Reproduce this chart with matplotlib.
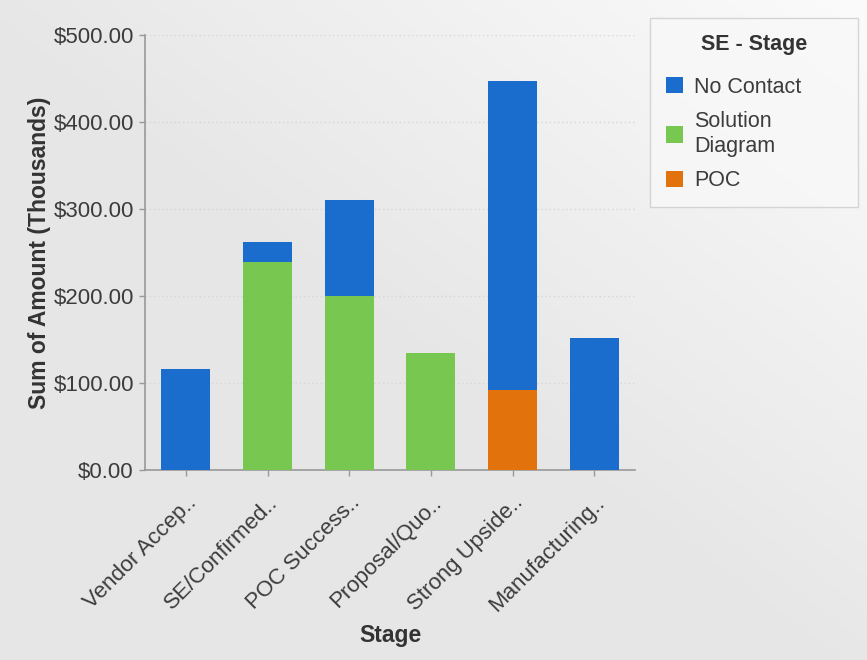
import numpy as np
import matplotlib
matplotlib.use("Agg")
import matplotlib.pyplot as plt
from matplotlib.patches import Patch

plt.rcParams['font.family'] = ['Liberation Sans', 'DejaVu Sans']

categories = ["Vendor Accep..", "SE/Confirmed..", "POC Success..",
              "Proposal/Quo..", "Strong Upside..", "Manufacturing.."]
poc = [0, 0, 0, 0, 92, 0]
solution_diagram = [0, 239, 200, 134, 0, 0]
no_contact = [116, 23, 110, 0, 355, 152]
series_names = ["No Contact", "Solution\nDiagram", "POC"]
yticks = [0, 100, 200, 300, 400, 500]

c_blue = "#1a6ccd"
c_green = "#78c751"
c_orange = "#e2720c"
txt = "#3c3c3c"

fig = plt.figure(figsize=(8.67, 6.6), dpi=100)

# background gradient
bg = fig.add_axes([0, 0, 1, 1], zorder=-10)
xx, yy = np.meshgrid(np.linspace(0, 1, 200), np.linspace(0, 1, 200))
grad = 0.6 * xx + 0.6 * (1 - yy)
grad = np.clip(grad - 0.55, 0, 1) / 0.65
bg.imshow(grad, cmap=matplotlib.colors.LinearSegmentedColormap.from_list(
    "g", ["#e6e6e6", "#fbfbfb"]), extent=[0, 1, 0, 1], aspect='auto', origin='upper')
bg.axis('off')

ax = fig.add_axes([145/867, 1 - 470/660, 490/867, 435/660])
ax.patch.set_alpha(0)
x = np.arange(len(categories))
w = 0.6
poc_a = np.array(poc, float)
sol_a = np.array(solution_diagram, float)
nc_a = np.array(no_contact, float)
ax.bar(x, poc_a, w, color=c_orange, zorder=3)
ax.bar(x, sol_a, w, bottom=poc_a, color=c_green, zorder=3)
ax.bar(x, nc_a, w, bottom=poc_a + sol_a, color=c_blue, zorder=3)

ax.set_xlim(-0.5, len(categories) - 0.5)
ax.set_ylim(0, 500)
ax.set_yticks(yticks)
ax.set_yticklabels([f"${v:.2f}" for v in yticks], fontsize=16, color=txt)
ax.set_xticks(x)
ax.set_xticklabels(categories, rotation=45, ha='right', va='top',
                   rotation_mode='anchor', fontsize=16, color=txt)
ax.tick_params(axis='both', length=4, color="#999999", width=1)
ax.tick_params(axis='x', pad=12)
ax.tick_params(axis='y', pad=4)
for s in ['top', 'right']:
    ax.spines[s].set_visible(False)
for s in ['left', 'bottom']:
    ax.spines[s].set_color("#999999")
    ax.spines[s].set_linewidth(1.2)
ax.yaxis.grid(True, linestyle=(0, (1, 2)), color="#d6d6d6", linewidth=1, zorder=0)
ax.set_axisbelow(True)

ax.set_ylabel("Sum of Amount (Thousands)", fontsize=16.5, fontweight='bold',
              color="#333333", labelpad=2)
ax.set_xlabel("Stage", fontsize=16.5, fontweight='bold', color="#333333", labelpad=6)

handles = [Patch(facecolor=c_blue), Patch(facecolor=c_green), Patch(facecolor=c_orange)]
leg = fig.legend(handles, series_names, title="SE - Stage", loc='upper left',
                 bbox_to_anchor=(650/867, 1 - 208/660, 208/867, 190/660),
                 mode='expand', fontsize=15.5,
                 title_fontproperties={'weight': 'bold', 'size': 15.5},
                 frameon=True, fancybox=False, handlelength=0.8, handleheight=0.8,
                 handletextpad=0.5, borderpad=0.75, borderaxespad=0, labelspacing=0.6)
leg._legend_box.sep = 15.5 * 1.0
for t in leg.get_texts():
    t.set_color(txt)
    t.set_linespacing(1.3)
leg.get_frame().set_facecolor("#f8f8f8")
leg.get_frame().set_edgecolor("#cccccc")
leg.get_title().set_color("#333333")

fig.savefig("out.png", dpi=100)
